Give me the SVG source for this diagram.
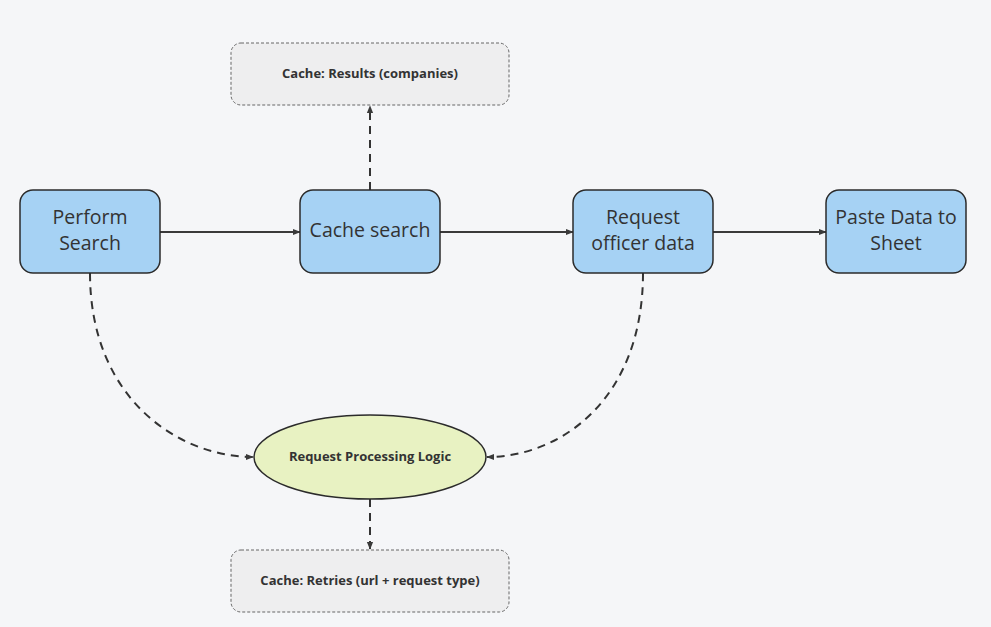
<svg xmlns="http://www.w3.org/2000/svg" width="991" height="627" viewBox="0 0 991 627">
<style>
.bg{fill:#f5f6f8}
.node{fill:#a6d2f4;stroke:#2b2b2b;stroke-width:1.5}
.cache{fill:#eeeeef;stroke:#666;stroke-width:1;stroke-dasharray:3 2}
.ell{fill:#e8f2c2;stroke:#2b2b2b;stroke-width:1.5}
.t{font-family:"Open Sans","Noto Sans",sans-serif;font-size:19.5px;fill:#333;text-anchor:middle}
.s{font-family:"Open Sans","Noto Sans",sans-serif;font-size:13px;font-weight:bold;fill:#333;text-anchor:middle}
.solid{fill:none;stroke:#3a3a3a;stroke-width:1.8}
.dash{fill:none;stroke:#333;stroke-width:2;stroke-dasharray:8 6}
</style>
<defs>
<marker id="ah" viewBox="0 0 10 10" refX="9" refY="5" markerWidth="8" markerHeight="8" markerUnits="userSpaceOnUse" orient="auto">
<path d="M0,1 L10,5 L0,9 z" fill="#3a3a3a"/>
</marker>
</defs>
<rect class="bg" width="991" height="627"/>
<g id="connectors">
<path class="solid" d="M160,232 L300,232" marker-end="url(#ah)"/>
<path class="solid" d="M440,232 L573,232" marker-end="url(#ah)"/>
<path class="solid" d="M713,232 L826,232" marker-end="url(#ah)"/>
<path class="dash" d="M370,190 L370,106" marker-end="url(#ah)"/>
<path class="dash" d="M90,273 C90,400 180,457 253,457" marker-end="url(#ah)"/>
<path class="dash" d="M643,273 C643,400 560,457 487,457" marker-end="url(#ah)"/>
<path class="dash" d="M370,499 L370,549" marker-end="url(#ah)"/>
</g>
<g id="cache-results">
<rect class="cache" x="231" y="43" width="278" height="62" rx="10"/>
<text class="s" x="370" y="78">Cache: Results (companies)</text>
</g>
<g id="perform-search">
<rect class="node" x="20" y="190" width="140" height="83" rx="13"/>
<text class="t" x="90" y="224">Perform</text>
<text class="t" x="90" y="250">Search</text>
</g>
<g id="cache-search">
<rect class="node" x="300" y="190" width="140" height="83" rx="13"/>
<text class="t" x="370" y="237">Cache search</text>
</g>
<g id="request-officer">
<rect class="node" x="573" y="190" width="140" height="83" rx="13"/>
<text class="t" x="643" y="224">Request</text>
<text class="t" x="643" y="250">officer data</text>
</g>
<g id="paste-data">
<rect class="node" x="826" y="190" width="140" height="83" rx="13"/>
<text class="t" x="896" y="224">Paste Data to</text>
<text class="t" x="896" y="250">Sheet</text>
</g>
<g id="request-processing">
<ellipse class="ell" cx="370" cy="457" rx="116" ry="42"/>
<text class="s" x="370" y="461">Request Processing Logic</text>
</g>
<g id="cache-retries">
<rect class="cache" x="231" y="550" width="278" height="62" rx="10"/>
<text class="s" x="370" y="585">Cache: Retries (url + request type)</text>
</g>
</svg>
